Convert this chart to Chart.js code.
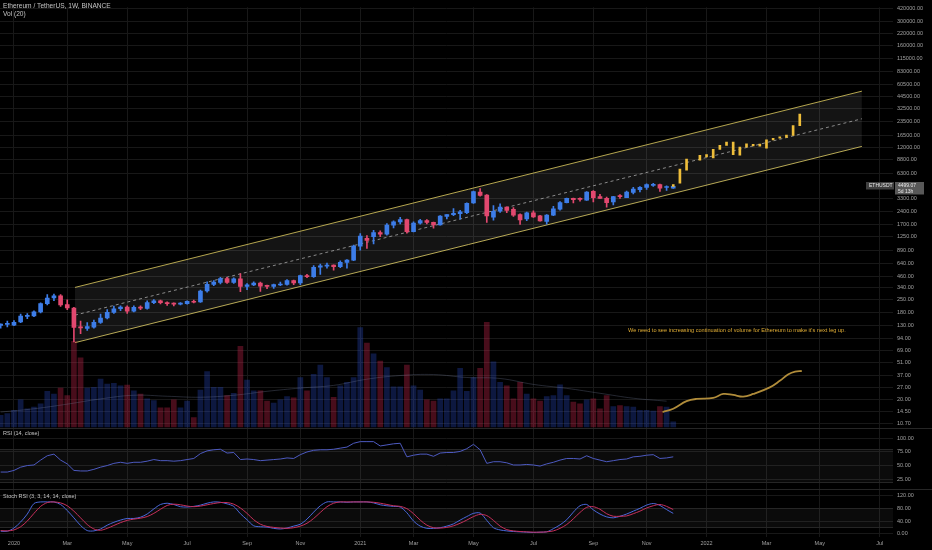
<!DOCTYPE html>
<html>
<head>
<meta charset="utf-8">
<script src="https://cdn.jsdelivr.net/npm/chart.js@4.4.1/dist/chart.umd.min.js"></script>
<style>
  html, body { margin: 0; padding: 0; background: #000; }
  #wrap { width: 932px; height: 550px; }
</style>
</head>
<body>
<div id="wrap"><canvas id="chart" width="932" height="550"></canvas></div>
<script>
/*
  ==================================================
  ====================== DATA ======================
  ==================================================
*/

// weekly ETHUSDT candles, week 0 = 2019-12-23
const candleOpen = [
  131, 134, 132, 143, 165, 167, 184, 227, 263, 277,
  222, 204, 126, 121, 125, 141, 158, 182, 200, 209,
  188, 208, 202, 234, 244, 234, 229, 225, 228, 241,
  238, 314, 372, 391, 431, 391, 428, 352, 366, 385,
  359, 353, 366, 371, 410, 386, 466, 451, 575, 590,
  606, 585, 650, 690, 985, 1200, 1250, 1390, 1330, 1680,
  1820, 1935, 1420, 1765, 1880, 1800, 1690, 2090, 2190, 2240,
  2300, 2950, 3900, 3600, 2050, 2390, 2650, 2500, 2200, 1960,
  2290, 2130, 1840, 2160, 2510, 2970, 3310, 3280, 3160, 3960,
  3470, 3310, 3030, 3470, 3380, 3850, 4140, 4380, 4610, 4695,
  4370, 4300
];
const candleHigh = [
  136, 146, 148, 175, 177, 190, 232, 287, 290, 286,
  251, 207, 146, 141, 150, 175, 196, 214, 215, 216,
  215, 215, 245, 252, 250, 238, 233, 234, 245, 249,
  322, 396, 410, 445, 446, 440, 488, 380, 397, 393,
  365, 375, 395, 420, 415, 470, 480, 600, 623, 637,
  612, 675, 700, 1010, 1350, 1290, 1470, 1450, 1750, 1875,
  2040, 1960, 1820, 1950, 1930, 1810, 2140, 2200, 2550, 2440,
  2950, 3990, 4250, 3650, 2760, 2890, 2680, 2620, 2240, 2340,
  2410, 2150, 2200, 2700, 3050, 3330, 3330, 3370, 3950, 4030,
  3680, 3420, 3490, 3650, 3980, 4380, 4460, 4800, 4870, 4760,
  4550, 4650
];
const candleLow = [
  122, 126, 130, 140, 155, 163, 180, 220, 245, 212,
  195, 86, 106, 115, 122, 138, 154, 178, 190, 178,
  184, 195, 198, 228, 226, 218, 215, 221, 225, 232,
  235, 305, 360, 376, 382, 380, 308, 325, 360, 310,
  334, 335, 360, 365, 370, 370, 440, 445, 480, 560,
  535, 570, 560, 680, 890, 930, 1040, 1250, 1300, 1560,
  1730, 1370, 1410, 1720, 1730, 1550, 1680, 1960, 2130, 1950,
  2250, 2920, 3500, 1800, 1900, 2320, 2300, 2100, 1710, 1880,
  2040, 1850, 1720, 2130, 2460, 2960, 2950, 3080, 3150, 3030,
  3300, 2650, 2800, 3300, 3380, 3700, 3900, 4150, 4500, 3950,
  4050, 4270
];
const candleClose = [
  135, 138, 142, 166, 168, 185, 228, 262, 278, 220,
  204, 124, 123, 127, 142, 158, 182, 200, 209, 188,
  207, 203, 234, 244, 234, 227, 225, 230, 241, 236,
  314, 372, 395, 431, 391, 428, 352, 368, 385, 355,
  353, 370, 373, 410, 386, 466, 451, 575, 596, 606,
  585, 650, 690, 985, 1270, 1140, 1390, 1330, 1680, 1820,
  1935, 1420, 1765, 1880, 1800, 1690, 2110, 2190, 2260, 2360,
  2930, 3930, 3570, 2120, 2390, 2650, 2440, 2160, 1910, 2290,
  2070, 1870, 2160, 2540, 2970, 3310, 3200, 3230, 3880, 3380,
  3310, 2970, 3470, 3460, 3880, 4190, 4380, 4695, 4720, 4300,
  4390, 4499.07
];
const volume = [
  1160, 1330, 1660, 2730, 1830, 2000, 2330, 3600, 3330, 3930,
  3160, 8660, 7000, 3930, 4000, 4830, 4330, 4400, 4160, 4230,
  3660, 3330, 2830, 2660, 1930, 1930, 2730, 1930, 2600, 930,
  3730, 5600, 4000, 4000, 3160, 3400, 8160, 4730, 3660, 3660,
  2600, 2400, 2730, 3060, 2930, 5000, 3660, 5330, 6260, 5000,
  3000, 4160, 4500, 5000, 10060, 8500, 7400, 6660, 6000, 4060,
  4060, 6260, 4160, 3730, 2730, 2600, 2830, 2830, 3660, 5930,
  3600, 5000, 5930, 10600, 6600, 4500, 4160, 2830, 4500, 3330,
  2830, 2600, 3060, 3160, 4260, 3160, 2500, 2330, 2730, 2830,
  1830, 3160, 2060, 2160, 2060, 2000, 1660, 1660, 1600, 2060,
  2000, 500
];
const volMaWeek = [0, 5, 10, 15, 20, 25, 30, 35, 40, 45, 50, 55, 60, 65, 70, 75, 80, 85, 90, 95, 100];
const volMaValue = [1500, 1830, 2300, 2830, 3200, 3100, 3000, 3200, 3600, 3930, 4200, 4830, 5200, 5300, 5000, 4900, 4300, 3900, 3400, 2900, 2600];

// hand drawn volume path
const volPathWeek = [99.4, 101, 103, 104.5, 107, 108.5, 110, 111.5, 113, 115.5, 117, 118.3, 119.3, 120.3];
const volPathValue = [1500, 1830, 2600, 2830, 2930, 3330, 3230, 3060, 3330, 4000, 4660, 5330, 5600, 5660];

// projected bars pattern
const projWeek = [101, 102, 103, 105, 106, 107, 108, 109, 110, 111, 112, 113, 114, 115, 116, 117, 118, 119, 120];
const projLow = [4500, 4880, 6810, 8750, 9500, 9270, 11530, 12750, 10100, 9920, 12220, 12600, 12500, 11900, 14700, 15300, 15600, 16390, 21060];
const projHigh = [4720, 6980, 8975, 9920, 10100, 11530, 12750, 13850, 13850, 12220, 13300, 13100, 13200, 14700, 15300, 15900, 16600, 21060, 28250];

// parallel channel
const channelWeek = [11.16, 129.33];
const channelUpper = [344, 50680];
const channelMid = [170, 25100];
const channelLower = [84.4, 12430];

const rsi = [
  38, 38, 41, 47, 50, 51, 60, 68, 71, 60,
  53, 41, 40, 40, 43, 47, 50, 54, 56, 54,
  56, 56, 58, 61, 59, 59, 58, 59, 61, 63,
  72, 77, 79, 80, 73, 74, 61, 62, 61, 59,
  60, 61, 62, 64, 63, 70, 75, 78, 79, 79,
  80, 82, 84, 91, 94, 94, 94, 86, 88, 90,
  91, 66, 69, 71, 71, 67, 73, 74, 74, 76,
  81, 89, 79, 54, 57, 57, 55, 51, 51, 52,
  51, 49, 53, 56, 60, 63, 63, 62, 68, 63,
  60, 57, 59, 61, 62, 66, 67, 69, 70, 63,
  64, 66
];
const stochK = [
  8, 8, 18, 37, 62, 95, 100, 100, 100, 92,
  73, 50, 26, 10, 9, 15, 27, 36, 43, 48,
  48, 52, 62, 78, 92, 96, 92, 85, 84, 86,
  90, 96, 100, 99, 94, 86, 63, 44, 25, 22,
  21, 17, 15, 18, 24, 30, 46, 68, 88, 100,
  100, 100, 99, 100, 100, 100, 97, 91, 88, 86,
  84, 66, 40, 24, 17, 17, 19, 24, 31, 43,
  54, 64, 65, 42, 19, 12, 9, 7, 6, 5,
  4, 5, 6, 16, 28, 44, 68, 88, 92, 75,
  62, 53, 50, 55, 62, 71, 80, 90, 95, 89,
  76, 64
];
const stochD = [
  10, 9, 12, 22, 40, 64, 86, 98, 100, 97,
  88, 71, 50, 29, 15, 11, 17, 26, 35, 42,
  46, 49, 54, 64, 77, 89, 93, 91, 87, 85,
  87, 91, 95, 98, 98, 93, 81, 64, 44, 30,
  23, 20, 18, 17, 19, 24, 33, 48, 67, 85,
  96, 100, 100, 100, 100, 100, 99, 96, 92, 88,
  86, 79, 63, 43, 27, 19, 18, 20, 25, 33,
  43, 54, 61, 57, 42, 24, 13, 9, 7, 6,
  5, 5, 6, 9, 17, 29, 47, 67, 83, 85,
  77, 63, 55, 55, 56, 63, 71, 81, 88, 92,
  86, 76
];

const priceTicks = [10.7, 14.5, 20, 27, 37, 51, 69, 94, 130, 180, 250, 340, 460, 640, 890, 1250, 1700, 2400, 3300,
  6300, 8800, 12000, 16500, 23500, 32500, 44500, 60500, 83000, 115000, 160000, 220000, 300000, 420000];
const rsiTicks = [25, 50, 75, 100];
const stochTicks = [0, 40, 80, 120];
const rsiBand = [80, 20];
const stochBand = [80, 20];
const xTickWeeks = [2, 10, 19, 28, 37, 45, 54, 62, 71, 80, 89, 97, 106, 115, 123, 132];
const xTickLabels = ['2020', 'Mar', 'May', 'Jul', 'Sep', 'Nov', '2021', 'Mar', 'May', 'Jul', 'Sep', 'Nov', '2022', 'Mar', 'May', 'Jul'];

/*
  ==================================================
  ===================== STYLES =====================
  ==================================================
*/

const FONT = "'Liberation Sans', Arial, sans-serif";
const UP = '#3d7de8';
const DOWN = '#e2486f';
const GRID = '#181818';
const AXIS_TXT = '#a0a0a0';

Chart.defaults.font.family = FONT;

let isUp = i => candleClose[i] >= candleOpen[i];
let candleColor = candleOpen.map((o, i) => isUp(i) ? UP : DOWN);
let volColor = candleOpen.map((o, i) => isUp(i) ? 'rgba(40, 75, 200, 0.32)' : 'rgba(200, 35, 75, 0.36)');

let axisFont = { size: 5.5, family: FONT };

/** @param {number[]} list */
let fixTicks = list => scale => { scale.ticks = list.map(v => ({ value: v })); };
let fixWidth = scale => { scale.width = 39; };

/*
  ==================================================
  ===================== OVERLAY =====================
  ==================================================
*/

let overlay = {
  id: 'overlay',
  beforeDatasetsDraw(chart) {
    let { ctx, chartArea: a, scales } = chart;
    ctx.save();
    [[scales.rsi, rsiBand], [scales.stoch, stochBand]].forEach(([s, band]) => {
      let top = s.getPixelForValue(band[0]);
      let bottom = s.getPixelForValue(band[1]);
      ctx.fillStyle = 'rgba(255,255,255,0.045)';
      ctx.fillRect(a.left, top, a.right - a.left, bottom - top);
      ctx.strokeStyle = '#262626';
      ctx.lineWidth = 1;
      [top, bottom].forEach(y => {
        ctx.beginPath();
        ctx.moveTo(a.left, Math.round(y) + 0.5);
        ctx.lineTo(a.right, Math.round(y) + 0.5);
        ctx.stroke();
      });
    });
    ctx.restore();
  },
  afterDraw(chart) {
    let { ctx, scales } = chart;
    ctx.save();

    // pane separators
    ctx.strokeStyle = '#262626';
    ctx.lineWidth = 1;
    [scales.rsi.top, scales.stoch.top].forEach(y => {
      ctx.beginPath();
      ctx.moveTo(0, Math.round(y) + 0.5);
      ctx.lineTo(932, Math.round(y) + 0.5);
      ctx.stroke();
    });

    // titles
    ctx.textBaseline = 'middle';
    ctx.textAlign = 'left';
    ctx.fillStyle = '#c4c4c4';
    ctx.font = `6.6px ${FONT}`;
    ctx.fillText('Ethereum / TetherUS, 1W, BINANCE', 3, 6.5);
    ctx.fillText('Vol (20)', 3, 14.5);
    ctx.font = `5.5px ${FONT}`;
    ctx.fillText('RSI (14, close)', 3, scales.rsi.top + 5);
    ctx.fillText('Stoch RSI (3, 3, 14, 14, close)', 3, scales.stoch.top + 8);

    // note
    ctx.fillStyle = '#e0ad35';
    ctx.font = `5.6px ${FONT}`;
    ctx.fillText("We need to see increasing continuation of volume for Ethereum to make it's next leg up.", 628, 330.5);

    // last price tag
    let last = candleClose[candleClose.length - 1];
    let py = Math.round(scales.y.getPixelForValue(last));
    ctx.fillStyle = '#3f3f3f';
    ctx.fillRect(866, py - 4, 28, 7.5);
    ctx.fillStyle = '#585858';
    ctx.fillRect(895, py - 4, 29, 12.5);
    ctx.fillStyle = '#e8e8e8';
    ctx.font = `5px ${FONT}`;
    ctx.fillText('ETHUSDT', 869, py);
    ctx.fillText(last.toFixed(2), 898, py);
    ctx.fillText('5d 13h', 898, py + 6);
    ctx.restore();
  }
};

/*
  ==================================================
  ====================== CHART ======================
  ==================================================
*/

let pts = (xs, ys) => xs.map((x, i) => ({ x, y: ys[i] }));

let canvas = document.getElementById('chart').getContext('2d');

let chart = new Chart(canvas, {
  type: 'bar',
  data: {
    datasets: [
      {
        type: 'line', yAxisID: 'y', order: 20,
        data: pts(channelWeek, channelUpper),
        borderColor: 'rgba(212, 194, 92, 0.85)', borderWidth: 1, pointRadius: 0,
        fill: '+1', backgroundColor: 'rgba(255,255,255,0.08)'
      },
      {
        type: 'line', yAxisID: 'y', order: 20,
        data: pts(channelWeek, channelLower),
        borderColor: 'rgba(212, 194, 92, 0.85)', borderWidth: 1, pointRadius: 0, fill: false
      },
      {
        type: 'line', yAxisID: 'y', order: 19,
        data: pts(channelWeek, channelMid),
        borderColor: 'rgba(215,215,215,0.6)', borderWidth: 1, borderDash: [3, 3], pointRadius: 0, fill: false
      },
      {
        yAxisID: 'vol', order: 15, grouped: false, barThickness: 5,
        data: pts(volume.map((v, i) => i), volume),
        backgroundColor: volColor
      },
      {
        type: 'line', yAxisID: 'vol', order: 14,
        data: pts(volMaWeek, volMaValue),
        borderColor: 'rgba(120, 130, 160, 0.3)', borderWidth: 1, pointRadius: 0, tension: 0.4, fill: false
      },
      {
        type: 'line', yAxisID: 'vol', order: 13,
        data: pts(volPathWeek, volPathValue),
        borderColor: '#b08c3a', borderWidth: 1.8, pointRadius: 0, tension: 0.4, fill: false
      },
      {
        yAxisID: 'y', order: 5, grouped: false, barThickness: 1,
        data: candleLow.map((l, i) => ({ x: i, y: [l, candleHigh[i]] })),
        backgroundColor: candleColor
      },
      {
        yAxisID: 'y', order: 4, grouped: false, barThickness: 4, minBarLength: 1,
        data: candleOpen.map((o, i) => ({ x: i, y: [o, candleClose[i]] })),
        backgroundColor: candleColor
      },
      {
        yAxisID: 'y', order: 3, grouped: false, barThickness: 2,
        data: projWeek.map((w, i) => ({ x: w, y: [projLow[i], projHigh[i]] })),
        backgroundColor: '#eebd3a'
      },
      {
        type: 'line', yAxisID: 'rsi', order: 1,
        data: pts(rsi.map((v, i) => i), rsi),
        borderColor: '#4d5ac0', borderWidth: 1, pointRadius: 0, fill: false
      },
      {
        type: 'line', yAxisID: 'stoch', order: 1,
        data: pts(stochK.map((v, i) => i), stochK),
        borderColor: '#4a68dc', borderWidth: 1, pointRadius: 0, tension: 0.3, fill: false
      },
      {
        type: 'line', yAxisID: 'stoch', order: 0,
        data: pts(stochD.map((v, i) => i), stochD),
        borderColor: '#c8305c', borderWidth: 1, pointRadius: 0, tension: 0.3, fill: false
      }
    ]
  },
  options: {
    responsive: false,
    animation: false,
    events: [],
    layout: { padding: 0 },
    plugins: { legend: { display: false }, tooltip: { enabled: false } },
    scales: {
      x: {
        type: 'linear', position: 'bottom', min: -0.1, max: 134, offset: false,
        grid: { color: GRID, drawTicks: false, offset: false },
        border: { display: false },
        ticks: {
          color: AXIS_TXT, font: axisFont, padding: 3, autoSkip: false, maxRotation: 0,
          callback: (v, i) => xTickLabels[i]
        },
        afterBuildTicks: fixTicks(xTickWeeks),
        afterFit: s => { s.height = 13; }
      },
      y: {
        type: 'logarithmic', position: 'right', stack: 'panes', stackWeight: 427,
        min: 9.51, max: 427600,
        grid: { color: GRID, drawTicks: false },
        border: { display: false },
        ticks: { color: AXIS_TXT, font: axisFont, padding: 4, autoSkip: false, callback: v => Number(v).toFixed(2) },
        afterBuildTicks: fixTicks(priceTicks),
        afterFit: fixWidth
      },
      rsi: {
        type: 'linear', position: 'right', stack: 'panes', stackWeight: 61,
        min: 7.4, max: 118.2,
        grid: { color: GRID, drawTicks: false },
        border: { display: false },
        ticks: { color: AXIS_TXT, font: axisFont, padding: 4, autoSkip: false, callback: v => Number(v).toFixed(2) },
        afterBuildTicks: fixTicks(rsiTicks),
        afterFit: fixWidth
      },
      stoch: {
        type: 'linear', position: 'right', stack: 'panes', stackWeight: 49,
        min: -10.2, max: 141.7,
        grid: { color: GRID, drawTicks: false },
        border: { display: false },
        ticks: { color: AXIS_TXT, font: axisFont, padding: 4, autoSkip: false, callback: v => Number(v).toFixed(2) },
        afterBuildTicks: fixTicks(stochTicks),
        afterFit: fixWidth
      },
      vol: {
        type: 'linear', position: 'right', display: false,
        min: -11170, max: 42530
      }
    }
  },
  plugins: [overlay]
});
</script>
</body>
</html>
